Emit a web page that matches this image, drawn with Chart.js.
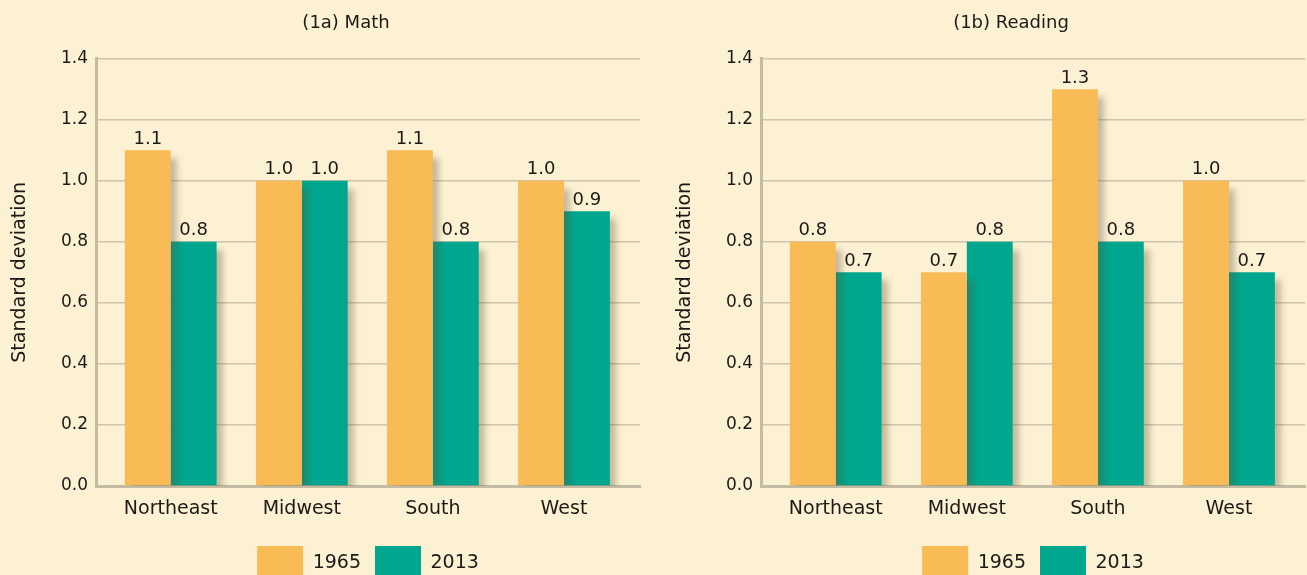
<!DOCTYPE html>
<html lang="en">
<head>
<meta charset="UTF-8">
<title>Standard deviation by region</title>
<script src="https://cdn.jsdelivr.net/npm/chart.js"></script>
<style>
    html, body { margin: 0; padding: 0; background: #fdf1d3; overflow: hidden; width: 1307px; height: 575px; }
    .panel { position: absolute; top: 0; width: 692px; height: 590px; }
    #painelMath { left: 0; }
    #painelReading { left: 665px; }
</style>
</head>
<body>
    <div class="panel" id="painelMath"><canvas id="chartMath"></canvas></div>
    <div class="panel" id="painelReading"><canvas id="chartReading"></canvas></div>
<script>
    // dados
    const regioes = ['Northeast', 'Midwest', 'South', 'West'];
    const anos = ['1965', '2013'];
    const math1965 = [1.1, 1.0, 1.1, 1.0];
    const math2013 = [0.8, 1.0, 0.8, 0.9];
    const reading1965 = [0.8, 0.7, 1.3, 1.0];
    const reading2013 = [0.7, 0.8, 0.8, 0.7];
    const yTicks = [0, 0.2, 0.4, 0.6, 0.8, 1.0, 1.2, 1.4];

    const corLaranja = '#f9bb55';
    const corVerde = '#00a68d';
    const corTexto = '#1c1a17';
    const fonte = '"DejaVu Sans"';

    Chart.defaults.font.family = fonte;
    Chart.defaults.color = corTexto;

    // sombra nas barras + valores em cima
    const sombraRotulos = {
        id: 'sombraRotulos',
        beforeDatasetsDraw(chart) {
            const ctx = chart.ctx;
            ctx.save();
            ctx.shadowColor = 'rgba(95, 85, 55, 0.35)';
            ctx.shadowBlur = 6;
            ctx.shadowOffsetX = 6;
            ctx.shadowOffsetY = 8;
        },
        afterDatasetsDraw(chart) {
            const ctx = chart.ctx;
            ctx.restore();
            ctx.save();
            ctx.font = '18px ' + fonte;
            ctx.fillStyle = corTexto;
            ctx.textAlign = 'center';
            ctx.textBaseline = 'bottom';
            chart.data.datasets.forEach(function (ds, i) {
                chart.getDatasetMeta(i).data.forEach(function (bar, j) {
                    ctx.fillText(ds.data[j].y.toFixed(1), bar.x, bar.y - 2);
                });
            });
            ctx.restore();
        }
    };

    function criarGrafico(id, titulo, serie1965, serie2013) {
        return new Chart(document.getElementById(id), {
            type: 'bar',
            data: {
                datasets: [{
                    label: anos[0],
                    data: serie1965.map(function (v, i) { return { x: i, y: v }; }),
                    backgroundColor: corLaranja
                }, {
                    label: anos[1],
                    data: serie2013.map(function (v, i) { return { x: i, y: v }; }),
                    backgroundColor: corVerde
                }]
            },
            options: {
                responsive: true,
                maintainAspectRatio: false,
                animation: false,
                layout: { padding: 0 },
                datasets: { bar: { categoryPercentage: 0.7, barPercentage: 1.0 } },
                plugins: {
                    title: {
                        display: true,
                        text: titulo,
                        font: { size: 18, weight: 'normal' },
                        padding: { top: 13, bottom: 24 }
                    },
                    legend: {
                        position: 'bottom',
                        fullSize: false,
                        labels: {
                            boxWidth: 46,
                            boxHeight: 34,
                            padding: 14,
                            font: { size: 19 },
                            color: corTexto
                        }
                    },
                    tooltip: { enabled: false }
                },
                scales: {
                    x: {
                        type: 'linear',
                        offset: false,
                        min: -0.57,
                        max: 3.58,
                        afterBuildTicks: function (scale) {
                            scale.ticks = regioes.map(function (r, i) { return { value: i }; });
                        },
                        afterFit: function (scale) { scale.height = 46; },
                        grid: { display: false, drawTicks: false, offset: false },
                        border: { display: true, color: '#c4bba3', width: 3 },
                        ticks: {
                            padding: 12,
                            maxRotation: 0,
                            autoSkip: false,
                            font: { size: 19 },
                            callback: function (v) { return regioes[v]; }
                        }
                    },
                    y: {
                        min: 0,
                        max: 1.4,
                        afterBuildTicks: function (scale) {
                            scale.ticks = yTicks.map(function (t) { return { value: t }; });
                        },
                        afterFit: function (scale) { scale.width = 96; },
                        grid: { color: '#cdc4ab', lineWidth: 1.5, drawTicks: false },
                        border: { display: true, color: '#c4bba3', width: 3 },
                        ticks: {
                            padding: 8,
                            font: { size: 17 },
                            callback: function (v) { return v.toFixed(1); }
                        },
                        title: {
                            display: true,
                            text: 'Standard deviation',
                            font: { size: 19 },
                            padding: { top: 9, bottom: 0 }
                        }
                    },
                    // eixo vazio a direita so para deixar a margem (titulo fica centrado no painel)
                    margem: {
                        type: 'linear',
                        position: 'right',
                        min: 0,
                        max: 1,
                        afterFit: function (scale) { scale.width = 52; },
                        grid: { display: false, drawTicks: false },
                        border: { display: false },
                        ticks: { display: false }
                    }
                }
            },
            plugins: [sombraRotulos]
        });
    }

    criarGrafico('chartMath', '(1a) Math', math1965, math2013);
    criarGrafico('chartReading', '(1b) Reading', reading1965, reading2013);
</script>
</body>
</html>
